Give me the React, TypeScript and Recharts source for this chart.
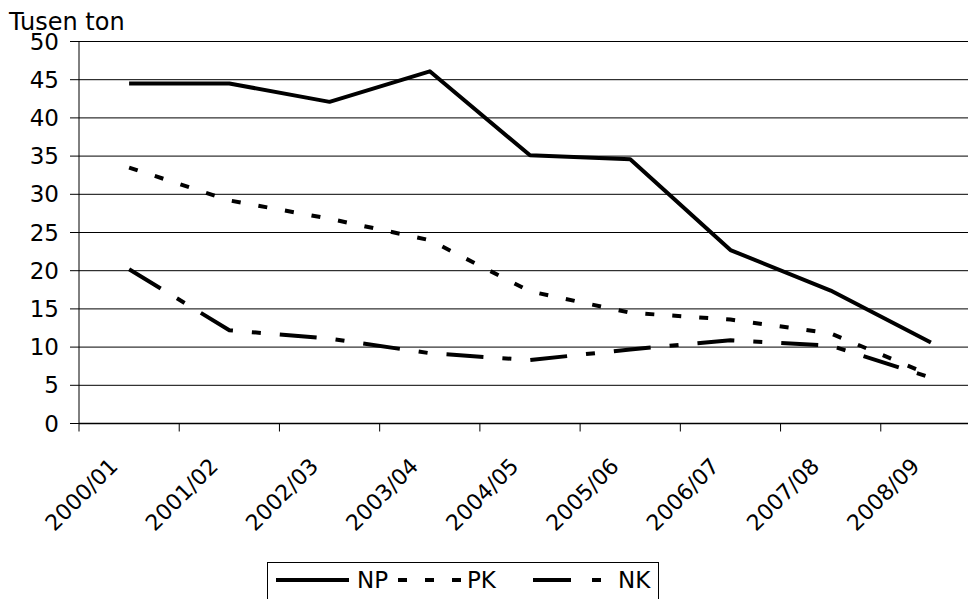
import { LineChart, Line, XAxis, YAxis, CartesianGrid, Legend } from 'recharts'

// crop years on the category axis
const categories = ['2000/01', '2001/02', '2002/03', '2003/04', '2004/05', '2005/06', '2006/07', '2007/08', '2008/09']

// values in thousand tonnes
const npValues = [44.5, 44.5, 42.1, 46.1, 35.1, 34.6, 22.7, 17.4, 10.6]
const pkValues = [33.5, 29.2, 26.8, 24.0, 17.3, 14.5, 13.6, 11.8, 6.3]
const nkValues = [20.2, 12.2, 11.1, 9.2, 8.3, 9.7, 10.9, 10.2, 6.0]

const yTicks = [0, 5, 10, 15, 20, 25, 30, 35, 40, 45, 50]

const seriesNames = ['NP', 'PK', 'NK']

const data = categories.map((name, i) => ({
  name,
  NP: npValues[i],
  PK: pkValues[i],
  NK: nkValues[i],
}))

const FONT = '"DejaVu Sans", sans-serif'
const CHART_W = 990
const CHART_H = 640
const TOP = 41.5
const Y_AXIS_W = 79
const RIGHT = 9
const X_AXIS_H = 100
const PLOT_BOTTOM = 423.5
const BOTTOM = CHART_H - PLOT_BOTTOM - X_AXIS_H
const BAND = (CHART_W - Y_AXIS_W - RIGHT) / categories.length

const DASH_PK = '9 18'
const DASH_NK = '37 19 9 19'

function XTick(props: any) {
  const { x, payload } = props
  const edge = x - BAND / 2
  const tx = x - 10
  const ty = PLOT_BOTTOM + 44
  return (
    <g>
      <line x1={edge} x2={edge} y1={PLOT_BOTTOM} y2={PLOT_BOTTOM + 8} stroke="#000" strokeWidth={1} />
      <text
        x={tx}
        y={ty}
        textAnchor="end"
        transform={`rotate(-45, ${tx}, ${ty})`}
        fontSize={22}
        fontFamily={FONT}
        fill="#000"
      >
        {payload.value}
      </text>
    </g>
  )
}

function TitleLabel() {
  return (
    <text x={9} y={29.5} fontSize={24} fontFamily={FONT} fill="#000">
      Tusen ton
    </text>
  )
}

function LegendBox() {
  return (
    <div
      style={{
        width: 392,
        height: 40,
        border: '1px solid #000',
        background: '#fff',
        boxSizing: 'border-box',
      }}
    >
      <svg width={390} height={38} style={{ display: 'block' }}>
        <line x1={8} x2={81} y1={17} y2={17} stroke="#000" strokeWidth={4} />
        <text x={89} y={25} fontSize={23} fontFamily={FONT} fill="#000">{seriesNames[0]}</text>
        <line x1={130} x2={194} y1={17} y2={17} stroke="#000" strokeWidth={4} strokeDasharray={DASH_PK} />
        <text x={199} y={25} fontSize={23} fontFamily={FONT} fill="#000">{seriesNames[1]}</text>
        <line x1={265} x2={335} y1={17} y2={17} stroke="#000" strokeWidth={4} strokeDasharray="38 21 9 21" />
        <text x={350} y={25} fontSize={23} fontFamily={FONT} fill="#000">{seriesNames[2]}</text>
      </svg>
    </div>
  )
}

export default function App() {
  return (
    <div style={{ position: 'absolute', left: 0, top: 0, width: 968, height: 599, overflow: 'hidden', background: '#fff' }}>
      <LineChart
        width={CHART_W}
        height={CHART_H}
        data={data}
        margin={{ top: TOP, right: RIGHT, bottom: BOTTOM, left: 0 }}
      >
        <CartesianGrid vertical={false} stroke="#000" strokeWidth={1} />
        <XAxis
          dataKey="name"
          scale="band"
          height={X_AXIS_H}
          interval={0}
          tickLine={false}
          axisLine={{ stroke: '#000', strokeWidth: 1.5 }}
          tick={<XTick />}
        />
        <YAxis
          width={Y_AXIS_W}
          domain={[0, 50]}
          ticks={yTicks}
          interval={0}
          tickSize={9}
          tickMargin={11}
          axisLine={{ stroke: '#000' }}
          tickLine={{ stroke: '#000' }}
          tick={{ fontSize: 23, fontFamily: FONT, fill: '#000' }}
          label={<TitleLabel />}
        />
        <Legend
          layout="horizontal"
          verticalAlign="middle"
          align="center"
          content={<LegendBox />}
          wrapperStyle={{ position: 'absolute', left: 267, top: 562, width: 392, height: 40 }}
        />
        <Line type="linear" dataKey="NP" stroke="#000" strokeWidth={4} dot={false} isAnimationActive={false} strokeLinejoin="round" />
        <Line type="linear" dataKey="PK" stroke="#000" strokeWidth={4} dot={false} isAnimationActive={false} strokeDasharray={DASH_PK} />
        <Line type="linear" dataKey="NK" stroke="#000" strokeWidth={4} dot={false} isAnimationActive={false} strokeDasharray={DASH_NK} />
      </LineChart>
    </div>
  )
}
